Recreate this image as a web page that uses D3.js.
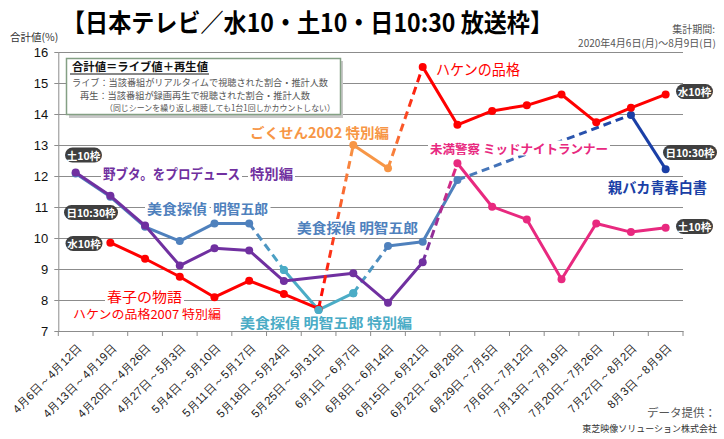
<!DOCTYPE html>
<html><head><meta charset="utf-8">
<script src="https://cdn.jsdelivr.net/npm/d3@7"></script>
<style>
html,body{margin:0;padding:0;background:#fff;}
svg{display:block;font-family:"Noto Sans CJK JP","Noto Sans",sans-serif;}
</style></head>
<body>
<svg id="c" width="724" height="439"></svg>
<script>
const N = null;
const categories = ["4月6日～4月12日","4月13日～4月19日","4月20日～4月26日","4月27日～5月3日","5月4日～5月10日","5月11日～5月17日","5月18日～5月24日","5月25日～5月31日","6月1日～6月7日","6月8日～6月14日","6月15日～6月21日","6月22日～6月28日","6月29日～7月5日","7月6日～7月12日","7月13日～7月19日","7月20日～7月26日","7月27日～8月2日","8月3日～8月9日"];
const yTicks = [7,8,9,10,11,12,13,14,15,16];
// 水10枠
const haruko   = [N,9.85,9.33,8.75,8.09,8.62,8.19,7.72,N,N,N,N,N,N,N,N,N,N];
const gokusen  = [N,N,N,N,N,N,N,N,13.00,12.25,N,N,N,N,N,N,N,N];
const haken    = [N,N,N,N,N,N,N,N,N,N,15.52,13.65,14.10,14.28,14.63,13.73,14.20,14.63];
// 土10枠
const nobuta   = [12.11,11.36,10.40,9.11,9.67,9.60,8.61,N,8.86,7.91,9.22,N,N,N,N,N,N,N];
const miman    = [N,N,N,N,N,N,N,N,N,N,N,12.41,11.01,10.60,8.67,10.47,10.19,10.33];
// 日10:30枠
const bishoku  = [12.08,11.33,10.36,9.90,10.47,10.47,N,N,N,N,N,N,N,N,N,N,N,N];
const bishokuSP= [N,N,N,N,N,N,8.97,7.68,8.22,N,N,N,N,N,N,N,N,N];
const bishoku2 = [N,N,N,N,N,N,N,N,N,9.74,9.88,11.87,N,N,N,N,N,N];
const oyabaka  = [N,N,N,N,N,N,N,N,N,N,N,N,N,N,N,N,13.97,12.22];

const series = [
  {key:"bishoku", data:bishoku, color:"#4f81bd"},
  {key:"bishokuSP", data:bishokuSP, color:"#4bacc6"},
  {key:"bishoku2", data:bishoku2, color:"#4f81bd"},
  {key:"oyabaka", data:oyabaka, color:"#1a3fa6"},
  {key:"nobuta", data:nobuta, color:"#7030a0"},
  {key:"miman", data:miman, color:"#e8297f"},
  {key:"haruko", data:haruko, color:"#ff0000"},
  {key:"gokusen", data:gokusen, color:"#f79646"},
  {key:"haken", data:haken, color:"#ff0000"}
];
const connectors = [
  ["bishoku","bishokuSP"],["bishokuSP","bishoku2"],["bishoku2","oyabaka"],
  ["nobuta","miman"],["haruko","gokusen"],["gokusen","haken"]
];

const svg = d3.select("#c");
const x = d3.scaleBand().domain(categories).range([58.3,683]);
const y = d3.scaleLinear().domain([7,16]).range([331,52]);
const cx = i => x(categories[i]) + x.bandwidth()/2;

// gridlines + y axis
const gy = svg.append("g").attr("transform","translate(58.3,0)")
  .call(d3.axisLeft(y).tickValues(yTicks).tickSize(-(683-58.3)).tickPadding(10).tickFormat(d3.format("d")));
gy.select(".domain").attr("stroke","#8c8c8c");
gy.selectAll(".tick line").attr("stroke","#8c8c8c").attr("stroke-width",1);
gy.selectAll(".tick text").attr("font-size",13).attr("fill","#111").attr("font-family","'Liberation Sans',Arial,sans-serif").attr("x",-10);
gy.selectAll(".tick").append("line").attr("x1",-4).attr("x2",0).attr("stroke","#8c8c8c");

// x axis
const gx = svg.append("g").attr("transform","translate(0,331)")
  .call(d3.axisBottom(x).tickSize(0).tickPadding(0));
gx.select(".domain").attr("stroke","#8c8c8c");
gx.selectAll(".tick text")
  .attr("font-size",11.5).attr("fill","#222")
  .attr("text-anchor","end").attr("dy","0.35em")
  .attr("transform","translate(4,15) rotate(-45)").attr("y",0).attr("x",0);
// boundary ticks
const bounds = categories.map(c=>x(c)).concat([683]);
svg.append("g").selectAll("line").data(bounds).join("line")
  .attr("x1",d=>d).attr("x2",d=>d).attr("y1",331).attr("y2",336).attr("stroke","#8c8c8c");

// defs for gradients
const defs = svg.append("defs");
const byKey = Object.fromEntries(series.map(s=>[s.key,s]));
const lastIdx = a => { for(let i=a.length-1;i>=0;i--) if(a[i]!=null) return i; };
const firstIdx = a => a.findIndex(v=>v!=null);

const line = d3.line().x(d=>cx(d.i)).y(d=>y(d.v));
const pts = a => a.map((v,i)=>({i,v})).filter(d=>d.v!=null);

const gLines = svg.append("g");
function drawSeries(s){
  gLines.append("path").datum(pts(s.data)).attr("d",line)
    .attr("fill","none").attr("stroke",s.color).attr("stroke-width",3).attr("stroke-linejoin","round");
}
function drawConnector(c,k){
  const a = byKey[c[0]], b = byKey[c[1]];
  const i1 = lastIdx(a.data), i2 = firstIdx(b.data);
  const p1 = {i:i1, v:a.data[i1]}, p2 = {i:i2, v:b.data[i2]};
  const gid = "g"+k;
  const lg = defs.append("linearGradient").attr("id",gid).attr("gradientUnits","userSpaceOnUse")
    .attr("x1",cx(i1)).attr("y1",y(p1.v)).attr("x2",cx(i2)).attr("y2",y(p2.v));
  lg.append("stop").attr("offset","0%").attr("stop-color",a.color);
  lg.append("stop").attr("offset","100%").attr("stop-color",b.color);
  gLines.append("path").datum([p1,p2]).attr("d",line)
    .attr("fill","none").attr("stroke","url(#"+gid+")").attr("stroke-width",3).attr("stroke-dasharray","8,5");
}
function drawMarkers(s){
  gLines.append("g").selectAll("circle").data(pts(s.data)).join("circle")
    .attr("cx",d=>cx(d.i)).attr("cy",d=>y(d.v)).attr("r",4).attr("fill",s.color);
}
// blue family
["bishoku","bishokuSP","bishoku2","oyabaka"].forEach(k=>drawSeries(byKey[k]));
drawConnector(connectors[0],0);drawConnector(connectors[1],1);drawConnector(connectors[2],2);
["bishoku","bishokuSP","bishoku2","oyabaka"].forEach(k=>drawMarkers(byKey[k]));
// purple family
["nobuta","miman"].forEach(k=>drawSeries(byKey[k]));
drawConnector(connectors[3],3);
["nobuta","miman"].forEach(k=>drawMarkers(byKey[k]));
// red family
["haruko","gokusen","haken"].forEach(k=>drawSeries(byKey[k]));
drawConnector(connectors[4],4);drawConnector(connectors[5],5);
["haruko","gokusen","haken"].forEach(k=>drawMarkers(byKey[k]));
drawMarkers(byKey["bishokuSP"]);

// labels
const gLab = svg.append("g");
function label(txt, x0, yc, size, color, weight, len, bg){
  const g = gLab.append("g");
  const t = g.append("text").attr("x",x0).attr("y",yc).attr("dominant-baseline","central")
    .attr("font-size",size).attr("fill",color).attr("font-weight",weight||"normal").text(txt);
  if(len) t.attr("textLength",len).attr("lengthAdjust","spacingAndGlyphs");
  if(bg!==false){
    const b = t.node().getBBox();
    g.insert("rect","text").attr("x",b.x-2).attr("y",b.y+2).attr("width",b.width+4).attr("height",b.height-4).attr("fill","#fff");
  }
  return t;
}
label("野ブタ。をプロデュース",103,173,13.5,"#7030a0","bold",137);
label("特別編",250,173,13.5,"#7030a0","bold",43);
label("美食探偵",147,208,13.5,"#4f81bd","bold",60);
label("明智五郎",213,208,13.5,"#4f81bd","bold",55);
label("美食探偵 明智五郎",297,227,13.5,"#4f81bd","bold",121);
label("美食探偵 明智五郎 特別編",240,322,13.5,"#4bacc6","bold",172);
label("春子の物語",107,296,14,"#ff0000","normal",75);
label("ハケンの品格2007 特別編",73,313.5,12,"#ff0000","normal",148);
label("ごくせん2002 特別編",250,132,14,"#f79646","bold",139);
label("ハケンの品格",436,68,15,"#ff0000","normal",84);
label("未満警察 ミッドナイトランナー",430,148,12.5,"#e8297f","bold",178);
label("親バカ青春白書",608,186,14.5,"#1a3fa6","bold",99);

// pills
function pill(txt, xc, yc, w){
  const g = svg.append("g");
  g.append("rect").attr("x",xc-w/2).attr("y",yc-7.5).attr("width",w).attr("height",15).attr("rx",7.5)
    .attr("fill","#3f3f3f");
  g.append("text").attr("x",xc).attr("y",yc).attr("text-anchor","middle").attr("dominant-baseline","central")
    .attr("font-size",10.5).attr("font-weight","bold").attr("fill","#fff").text(txt);
}
pill("土10枠",83.5,155,37);
pill("日10:30枠",91,212.5,54);
pill("水10枠",84,243.5,37);
pill("水10枠",694.5,91.5,37);
pill("日10:30枠",690,152.5,54);
pill("土10枠",694.5,226.5,37);

// title etc.
svg.append("text").attr("x",62).attr("y",32).attr("font-size",25).attr("font-weight","bold").attr("fill","#000")
  .attr("textLength",491).attr("lengthAdjust","spacingAndGlyphs")
  .text("【日本テレビ／水10・土10・日10:30 放送枠】");
svg.append("text").attr("x",10).attr("y",41).attr("font-size",10.5).attr("fill","#333").text("合計値(%)");
svg.append("text").attr("x",715).attr("y",33).attr("text-anchor","end").attr("font-size",10).attr("fill","#555").text("集計期間:");
svg.append("text").attr("x",716).attr("y",47).attr("text-anchor","end").attr("font-size",10).attr("fill","#555").text("2020年4月6日(月)～8月9日(日)");
svg.append("text").attr("x",716).attr("y",417).attr("text-anchor","end").attr("font-size",11.5).attr("fill","#555").text("データ提供：");
svg.append("text").attr("x",717).attr("y",432).attr("text-anchor","end").attr("font-size",9).attr("fill","#333").text("東芝映像ソリューション株式会社");

// legend box
const lb = svg.append("g");
lb.append("rect").attr("x",69).attr("y",61).attr("width",274).attr("height",57).attr("fill","#c8c8c8");
lb.append("rect").attr("x",66.5).attr("y",58.5).attr("width",274).attr("height",56).attr("fill","#fff").attr("stroke","#84a084").attr("stroke-width",1.5);
lb.append("text").attr("x",72).attr("y",71).attr("font-size",11.5).attr("font-weight","bold").attr("fill","#111")
  .attr("textLength",136).attr("lengthAdjust","spacingAndGlyphs").text("合計値＝ライブ値＋再生値");
lb.append("line").attr("x1",70).attr("x2",209).attr("y1",74).attr("y2",74).attr("stroke","#111").attr("stroke-width",1);
lb.append("text").attr("x",72).attr("y",86).attr("font-size",9.2).attr("fill","#555")
  .attr("textLength",256).attr("lengthAdjust","spacingAndGlyphs").text("ライブ：当該番組がリアルタイムで視聴された割合・推計人数");
lb.append("text").attr("x",80).attr("y",98.5).attr("font-size",9.2).attr("fill","#555")
  .attr("textLength",230).attr("lengthAdjust","spacingAndGlyphs").text("再生：当該番組が録画再生で視聴された割合・推計人数");
lb.append("text").attr("x",105).attr("y",110.5).attr("font-size",8.3).attr("fill","#555")
  .attr("textLength",230).attr("lengthAdjust","spacingAndGlyphs").text("（同じシーンを繰り返し視聴しても1台1回しかカウントしない）");
</script>
</body></html>
